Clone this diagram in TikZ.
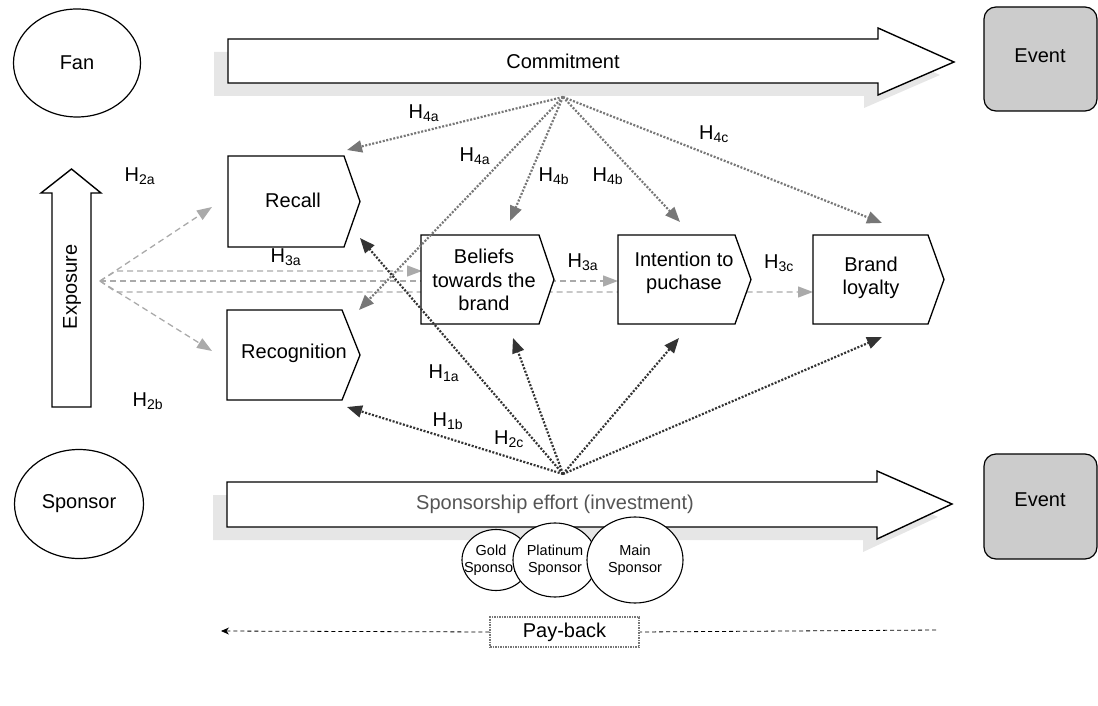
\documentclass[tikz,border=0pt]{standalone}
\usepackage{fontspec}
\setmainfont{Liberation Sans}
\usetikzlibrary{arrows.meta,shapes.geometric}
\definecolor{lg}{HTML}{AAAAAA}
\definecolor{mg}{HTML}{777777}
\definecolor{dg}{HTML}{333333}
\definecolor{shadowc}{HTML}{E6E6E6}
\definecolor{eventc}{HTML}{CCCCCC}
\definecolor{txtgray}{HTML}{555555}
\newcommand{\chevbox}[5]{% x, top, rect width, point, height
  \draw[boxline] (#1,#2) -- ++(#3,0) -- ++(#4,#5/2) -- ++(-#4,#5/2) -- ++(-#3,0) -- cycle;
}
\begin{document}
\begin{tikzpicture}[x=1pt,y=-1pt,
  font=\fontsize{20}{23.5}\selectfont,
  boxline/.style={draw=black,line width=1.3pt,fill=white},
  bigarrow/.style={draw=black,line width=1.4pt,fill=white},
  shadowshape/.style={fill=shadowc},
  lbl/.style={inner sep=0pt,align=center},
  hlbl/.style={inner sep=0pt},
  eventbox/.style={draw=black,line width=1.2pt,fill=eventc,rounded corners=12pt},
  expo/.style={draw=lg,line width=1.3pt,dash pattern=on 6pt off 4pt,-{Triangle[length=15pt,width=11pt]}},
  comm/.style={draw=mg,line width=2.2pt,dash pattern=on 2pt off 1.6pt,-{Triangle[length=15pt,width=12pt]}},
  spon/.style={draw=dg,line width=2.2pt,dash pattern=on 2pt off 1.6pt,-{Triangle[length=15pt,width=12pt]}},
  minioval/.style={draw=black,line width=1.1pt,fill=white,ellipse,inner sep=0pt,font=\fontsize{14.5}{17}\selectfont,align=center},
  payline/.style={draw=black,line width=0.8pt,dash pattern=on 4pt off 3pt},
  paybox/.style={draw=mg,line width=1.5pt,dash pattern=on 1.5pt off 1pt,fill=white,minimum width=149pt,minimum height=30pt,inner sep=0pt,font=\fontsize{20}{23}\selectfont}
]
\useasboundingbox (0,0) rectangle (1098,706);

% ---- ovals ----
\node[draw=black,line width=1.2pt,ellipse,minimum width=127pt,minimum height=108pt,inner sep=0pt] (fan) at (77,63) {Fan};
\node[draw=black,line width=1.2pt,ellipse,minimum width=129pt,minimum height=109pt,inner sep=0pt] (sponsor) at (79,504) {Sponsor};

% ---- event boxes ----
\draw[eventbox] (984,7) rectangle (1097,111);
\node[lbl] (event1) at (1040,56) {Event};
\draw[eventbox] (984,454) rectangle (1097,559);
\node[lbl] (event2) at (1040,500) {Event};

% ---- commitment arrow ----
\fill[shadowshape] (214,52) -- (864,52) -- (864,41) -- (940,75) -- (864,108) -- (864,96) -- (214,96) -- cycle;
\draw[bigarrow] (228,39) -- (878,39) -- (878,28) -- (954,62) -- (878,95) -- (878,83) -- (228,83) -- cycle;
\node[lbl] (commit) at (563,61) {Commitment};

% ---- sponsorship arrow ----
\fill[shadowshape] (213,495) -- (863,495) -- (863,484) -- (938,517) -- (863,552) -- (863,540) -- (213,540) -- cycle;
\draw[bigarrow] (227,482) -- (877,482) -- (877,471) -- (952,504) -- (877,539) -- (877,527) -- (227,527) -- cycle;
\node[lbl,text=txtgray] (sponeff) at (555,504) {Sponsorship effort (investment)};

% ---- exposure arrow ----
\draw[bigarrow] (52,407) -- (52,193) -- (41,193) -- (71.5,169) -- (101,193) -- (91,193) -- (91,407) -- cycle;
\node[lbl,rotate=90] (expo) at (72,287) {Exposure};

% ---- exposure dashed connectors (behind boxes) ----
\coordinate (E) at (100,281);
\coordinate (Ea) at (116,271);
\coordinate (Eb) at (116,292);
\coordinate (tRecall) at (212,207);
\coordinate (tRecog) at (212,351);
\coordinate (tBel) at (422,271);
\coordinate (tInt) at (618,281);
\coordinate (tBrand) at (813,292);
\draw[expo] (E) -- (tRecall);
\draw[expo] (E) -- (tRecog);
\draw[expo] (E) -- (Ea) -- (tBel);
\draw[expo] (E) -- (tInt);
\draw[expo] (E) -- (Eb) -- (tBrand);

% ---- chevron boxes ----
\chevbox{228}{156}{116}{16}{91}
\node[lbl] (recall) at (293,200) {Recall};
\chevbox{227}{310}{115}{18}{90}
\node[lbl] (recog) at (294,353) {Recognition};
\chevbox{421}{235}{118}{15}{89}
\node[lbl] (beliefs) at (484,280) {Beliefs\\towards the\\brand};
\chevbox{618}{235}{117}{16}{89}
\node[lbl] (intent) at (684,273) {Intention to\\puchase};
\chevbox{813}{235}{115}{16}{89}
\node[lbl] (loyal) at (871,278) {Brand\\loyalty};

% ---- commitment (top) dotted arrows ----
\coordinate (T) at (563,97);
\coordinate (cRecall) at (347,150);
\coordinate (cRecog) at (359,310);
\coordinate (cBel) at (510,221);
\coordinate (cInt) at (680,222);
\coordinate (cBrand) at (882,223);
\draw[comm] (T) -- (cRecall);
\draw[comm] (T) -- (cRecog);
\draw[comm] (T) -- (cBel);
\draw[comm] (T) -- (cInt);
\draw[comm] (T) -- (cBrand);

% ---- sponsorship (bottom) dotted arrows ----
\coordinate (S) at (563,474);
\coordinate (sRecall) at (360,238);
\coordinate (sRecog) at (347,407);
\coordinate (sBel) at (513,338);
\coordinate (sInt) at (679,338);
\coordinate (sBrand) at (882,337);
\draw[spon] (S) -- (sRecall);
\draw[spon] (S) -- (sRecog);
\draw[spon] (S) -- (sBel);
\draw[spon] (S) -- (sInt);
\draw[spon] (S) -- (sBrand);

% ---- hypothesis labels ----
\node[hlbl] (h2a) at (140,176) {H\textsubscript{2a}};
\node[hlbl] (h2b) at (148,401) {H\textsubscript{2b}};
\node[hlbl] (h3a1) at (286,257) {H\textsubscript{3a}};
\node[hlbl] (h3a2) at (583,262) {H\textsubscript{3a}};
\node[hlbl] (h3c) at (779,263) {H\textsubscript{3c}};
\node[hlbl] (h4a1) at (424,113) {H\textsubscript{4a}};
\node[hlbl] (h4a2) at (475,156) {H\textsubscript{4a}};
\node[hlbl] (h4b1) at (554,176) {H\textsubscript{4b}};
\node[hlbl] (h4b2) at (608,176) {H\textsubscript{4b}};
\node[hlbl] (h4c) at (714,134) {H\textsubscript{4c}};
\node[hlbl] (h1a) at (444,373) {H\textsubscript{1a}};
\node[hlbl] (h1b) at (448,421) {H\textsubscript{1b}};
\node[hlbl] (h2c) at (509,439) {H\textsubscript{2c}};

% ---- sponsor level ovals ----
\node[minioval,minimum width=68pt,minimum height=61pt] (gold) at (496,560) {};
\node[lbl,font=\fontsize{14.5}{17}\selectfont] (goldt) at (491,560) {Gold\\Sponsor};
\node[minioval,minimum width=84pt,minimum height=74pt] (plat) at (555,560) {Platinum\\Sponsor};
\node[minioval,minimum width=96pt,minimum height=86pt] (main) at (635,560) {Main\\Sponsor};

% ---- pay-back ----
\node[paybox] (payback) at (564.5,632) {\raisebox{2pt}{Pay-back}};
\coordinate (pR) at (936,630);
\coordinate (pL) at (221,631);
\draw[payline] (pR) -- (payback.east);
\draw[payline,-{Stealth[length=8pt,width=7pt]}] (payback.west) -- (pL);
\end{tikzpicture}
\end{document}
